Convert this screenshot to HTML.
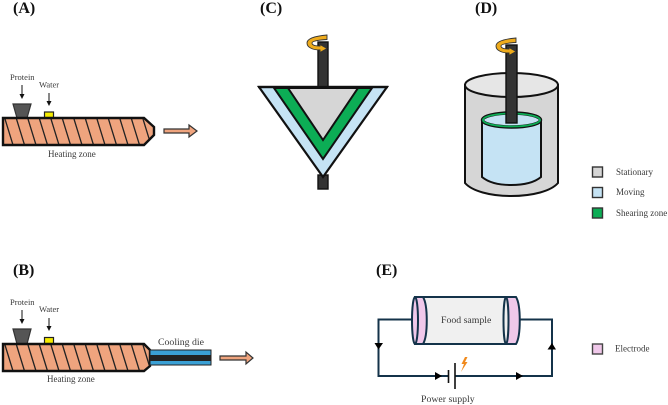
<!DOCTYPE html>
<html><head><meta charset="utf-8"><style>
html,body{margin:0;padding:0;background:#fff}
svg{display:block;filter:blur(.3px)}
text{font-family:"Liberation Serif",serif;fill:#3a3a3a}
.h{font-size:16px;font-weight:bold;fill:#111}
.s{font-size:8.500px}
.m{font-size:9px}
.l{font-size:9.800px}
</style></head><body>
<svg width="668" height="405" viewBox="0 0 668 405" xmlns="http://www.w3.org/2000/svg">
<defs>
<clipPath id="ca"><path d="M3 118H144L154 127V135L144 145H3Z"/></clipPath>
<clipPath id="cb"><path d="M3 344H144L150 350V366L144 371H3Z"/></clipPath>
<path id="rot" d="M327 35 C316 36 307 38 307 43 C307 48 314 50 320 50 V52.500 L327 48.500 L320 44.500 V46 C315 46 312 45 312 43 C312 41 319 40 327 39.500 Z" fill="#eeab1c" stroke="#333" stroke-width=".9"/>
</defs>

<text class="h" x="13" y="13">(A)</text>
<text class="h" x="260" y="13">(C)</text>
<text class="h" x="475" y="13">(D)</text>
<text class="h" x="13" y="275">(B)</text>
<text class="h" x="376" y="275">(E)</text>

<!-- A -->
<text class="s" x="10" y="80">Protein</text>
<text class="s" x="39" y="87.500">Water</text>
<path d="M22 85V95M49 93V102" stroke="#111" stroke-width="1"/>
<path d="M19.500 94L22 99L24.500 94ZM46.500 101L49 106L51.500 101Z" fill="#111"/>
<path d="M13 104H31L27 118H17Z" fill="#555" stroke="#333" stroke-width="1.200"/>
<rect x="44.500" y="112" width="9" height="6.500" fill="#f5ec00" stroke="#222" stroke-width="1.200"/>
<path d="M3 118H144L154 127V135L144 145H3Z" fill="#efa47e"/>
<g clip-path="url(#ca)" stroke="#222" stroke-width="1.300">
<path d="M5 119L13 145M16.500 119L24.500 145M28 119L36 145M39.500 119L47.500 145M51 119L59 145M62.500 119L70.500 145M74 119L82 145M85.500 119L93.500 145M97 119L105 145M108.500 119L116.500 145M120 119L128 145M131.500 119L139.500 145M143 119L151 145"/>
</g>
<path d="M3 118H144L154 127V135L144 145H3Z" fill="none" stroke="#111" stroke-width="2.400"/>
<text class="m" x="48" y="157">Heating zone</text>
<path d="M164 129H189V125L197 131L189 137V133H164Z" fill="#efa47e" stroke="#333" stroke-width="1.200"/>

<!-- B -->
<text class="s" x="10" y="305">Protein</text>
<text class="s" x="39" y="312">Water</text>
<path d="M22 310V320M49 318V327" stroke="#111" stroke-width="1"/>
<path d="M19.500 319L22 324L24.500 319ZM46.500 326L49 331L51.500 326Z" fill="#111"/>
<path d="M13 329H31L27 344H17Z" fill="#555" stroke="#333" stroke-width="1.200"/>
<rect x="44.500" y="337.500" width="9" height="6.500" fill="#f5ec00" stroke="#222" stroke-width="1.200"/>
<path d="M3 344H144L150 350V366L144 371H3Z" fill="#efa47e"/>
<g clip-path="url(#cb)" stroke="#222" stroke-width="1.300">
<path d="M5 345L13 371M16.500 345L24.500 371M28 345L36 371M39.500 345L47.500 371M51 345L59 371M62.500 345L70.500 371M74 345L82 371M85.500 345L93.500 371M97 345L105 371M108.500 345L116.500 371M120 345L128 371M131.500 345L139.500 371M143 345L151 371"/>
</g>
<path d="M3 344H144L150 350V366L144 371H3Z" fill="none" stroke="#111" stroke-width="2.400"/>
<rect x="150" y="350" width="61" height="15" fill="#3aa0d5" stroke="#222" stroke-width="1"/>
<rect x="150" y="355" width="61" height="6" fill="#222"/>
<text class="l" x="158" y="345">Cooling die</text>
<text class="m" x="47" y="382">Heating zone</text>
<path d="M220 356H246V352L253 358L246 364V360H220Z" fill="#efa47e" stroke="#333" stroke-width="1.200"/>

<!-- C -->
<rect x="318" y="175" width="10" height="14" fill="#333" stroke="#111" stroke-width="1.400"/>
<path d="M259 87H387L323 177Z" fill="#c5e3f4" stroke="#111" stroke-width="2.200"/>
<path d="M274 88H372L323 159Z" fill="#0cad55" stroke="#111" stroke-width="2"/>
<path d="M288 88H358L323 140Z" fill="#d6d6d6" stroke="#111" stroke-width="2"/>
<rect x="318" y="42" width="10" height="45" fill="#333" stroke="#111" stroke-width="1.400"/>
<path d="M258 87H388" stroke="#111" stroke-width="2.200"/>
<use href="#rot"/>

<!-- D -->
<path d="M465 85V183C472 191 490 196 511 196C533 196 551 191 558 183V85Z" fill="#d6d6d6" stroke="#111" stroke-width="2"/>
<ellipse cx="511.500" cy="85" rx="46.500" ry="12" fill="#e6e6e6" stroke="#111" stroke-width="2"/>
<path d="M482 120V177C488 182 498 185 511 185C525 185 535 182 541 177V120Z" fill="#c5e3f4" stroke="#111" stroke-width="2"/>
<ellipse cx="511.500" cy="120" rx="29" ry="7" fill="#c5e3f4" stroke="#111" stroke-width="3.400"/>
<ellipse cx="511.500" cy="120" rx="28.500" ry="6.500" fill="none" stroke="#0cad55" stroke-width="1.800"/>
<rect x="506" y="45" width="11" height="78" fill="#333" stroke="#111" stroke-width="1.400"/>
<use href="#rot" x="189" y="3"/>

<!-- Legend -->
<rect x="592.500" y="167" width="10" height="10" fill="#d6d6d6" stroke="#333" stroke-width="1.400"/>
<rect x="592.500" y="187.500" width="10" height="10" fill="#c5e3f4" stroke="#333" stroke-width="1.400"/>
<rect x="592.500" y="208" width="10" height="10" fill="#0cad55" stroke="#333" stroke-width="1.400"/>
<text class="m" x="616" y="175">Stationary</text>
<text class="m" x="616" y="195">Moving</text>
<text class="m" x="616" y="216">Shearing zone</text>

<!-- E -->
<path d="M412 319.500H378.500V376H448M455 376H552V319.500H520" fill="none" stroke="#14334a" stroke-width="2"/>
<rect x="415" y="297" width="100" height="47" fill="#f0f0f0" stroke="#14334a" stroke-width="2"/>
<path d="M415 297H423C428 305 428 336 423 344H415Z" fill="#f0c8ea" stroke="#14334a" stroke-width="2"/>
<ellipse cx="415" cy="320.500" rx="3" ry="23.500" fill="#f0c8ea" stroke="#14334a" stroke-width="2"/>
<path d="M506 297H516C521 305 521 336 516 344H506Z" fill="#f0c8ea" stroke="#14334a" stroke-width="2"/>
<ellipse cx="506" cy="320.500" rx="2.500" ry="23.500" fill="#f0f0f0" stroke="#14334a" stroke-width="2"/>
<text class="l" x="441" y="323">Food sample</text>
<path d="M374.500 343H383L378.500 349.500ZM547.500 349.500H556L552 343ZM435 372V380L442 376ZM516 372V380L523 376Z" fill="#000"/>
<path d="M448.500 370V383M455 363V389" stroke="#111" stroke-width="1.600"/>
<path d="M465 357L461.500 364H464L461 372L467.500 362H465L467.500 357Z" fill="#f08a1d"/>
<text class="l" x="421" y="402">Power supply</text>
<rect x="592.500" y="344" width="10" height="10" fill="#f0c8ea" stroke="#444" stroke-width="1.400"/>
<text class="m" x="615" y="351.500">Electrode</text>
</svg>
</body></html>
